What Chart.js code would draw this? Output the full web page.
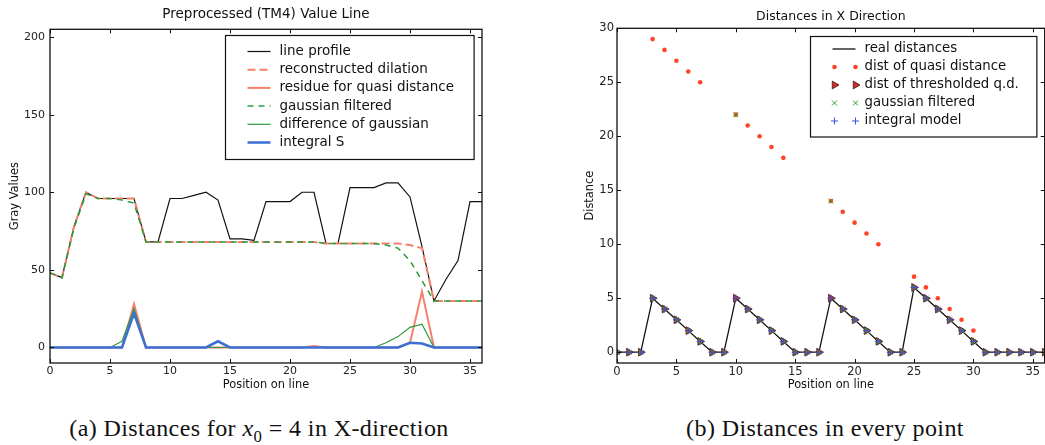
<!DOCTYPE html>
<html>
<head>
<meta charset="utf-8">
<script src="https://cdn.jsdelivr.net/npm/chart.js@4.4.1/dist/chart.umd.min.js"></script>
<style>
  html, body { margin: 0; padding: 0; background: #fff; width: 1045px; height: 445px; overflow: hidden; }
  .wrap { position: absolute; top: 0; height: 400px; }
  #wrapA { left: 0; width: 484px; }
  #wrapB { left: 560px; width: 490px; }
  .caption {
    position: absolute; top: 415px; transform: translateX(-50%);
    font-family: "Liberation Serif", "DejaVu Serif", serif; font-size: 24px; letter-spacing: 0.4px;
    color: #111; white-space: nowrap;
  }
  .caption sub { font-size: 0.7em; }
</style>
</head>
<body>
<div class="wrap" id="wrapA"><canvas id="chartA"></canvas></div>
<div class="wrap" id="wrapB"><canvas id="chartB"></canvas></div>
<div class="caption" style="left:259px">(a) Distances for <i>x</i><sub>0</sub> = 4 in X-direction</div>
<div class="caption" style="left:825px">(b) Distances in every point</div>

<script>
// === DATOS ===
const positions = [0,1,2,3,4,5,6,7,8,9,10,11,12,13,14,15,16,17,18,19,20,21,22,23,24,25,26,27,28,29,30,31,32,33,34,35,36];
const positionTicks = [0, 5, 10, 15, 20, 25, 30, 35];
const grayTicks = [0, 50, 100, 150, 200];
const distanceTicks = [0, 5, 10, 15, 20, 25, 30];

// (a) value line
const lineProfile      = [48,45,78,100,96,96,96,96,68,68,96,96,98,100,95,70,70,69,94,94,94,100,100,67,67,103,103,103,106,106,97,65,30,44,56,94,94];
const reconDilation    = [48,45,78,100,96,96,96,96,68,68,68,68,68,68,68,68,68,68,68,68,68,68,68,67,67,67,67,67,67,67,66,64,30,30,30,30,30];
const residueQuasi     = [0,0,0,0,0,0,0,28,0,0,0,0,0,0,0,0,0,0,0,0,0,0,1,0,0,0,0,0,0,0,3,36,0,0,0,0,0];
const gaussianFiltered = [48,45,77,99,96,96,95,93,68,68,68,68,68,68,68,68,68,68,68,68,68,68,68,67,67,67,67,67,66,64,56,43,30,30,30,30,30];
const diffOfGaussian   = [0,0,0,0,0,0,4,25,0,0,0,0,0,0,0,0,0,0,0,0,0,0,0,0,0,0,0,0,3,7,13,15,0,0,0,0,0];
const integralS        = [0,0,0,0,0,0,0,22,0,0,0,0,0,0,4,0,0,0,0,0,0,0,0,0,0,0,0,0,0,0,3,2.5,0,0,0,0,0];

// (b) distances
const realDistances    = [0,0,0,5,4,3,2,1,0,0,5,4,3,2,1,0,0,0,5,4,3,2,1,0,0,6,5,4,3,2,1,0,0,0,0,0,0];
const quasiDistance    = [0,0,0,29,28,27,26,25,0,0,22,21,20,19,18,0,0,0,14,13,12,11,10,0,0,7,6,5,4,3,2,0,0,0,0,0,0];
const thresholdedQD    = [0,0,0,5,4,3,2,1,0,0,5,4,3,2,1,0,0,0,5,4,3,2,1,0,0,6,5,4,3,2,1,0,0,0,0,0,0];
const gaussianDist     = [0,0,0,5,4,3,2,1,0,0,22,4,3,2,1,0,0,0,14,4,3,2,1,0,0,6,5,4,3,2,1,0,0,0,0,0,0];
const integralModel    = [0,0,0,5,4,3,2,1,0,0,5,4,3,2,1,0,0,0,5,4,3,2,1,0,0,6,5,4,3,2,1,0,0,0,0,0,0];

const FONT = '"DejaVu Sans", sans-serif';
const pts = (arr) => positions.map((x, i) => ({ x, y: arr[i] }));

// === MARCO Y TICKS HACIA DENTRO (estilo matplotlib) ===
const framePlugin = {
  id: 'frame',
  afterDatasetsDraw(chart) {
    const { ctx, chartArea: a, scales: { x, y } } = chart;
    ctx.save();
    ctx.strokeStyle = '#111';
    ctx.lineWidth = 1;
    ctx.beginPath();
    x.ticks.forEach((t) => {
      const px = Math.round(x.getPixelForValue(t.value)) + 0.5;
      ctx.moveTo(px, a.bottom); ctx.lineTo(px, a.bottom - 4);
      ctx.moveTo(px, a.top); ctx.lineTo(px, a.top + 4);
    });
    y.ticks.forEach((t) => {
      const py = Math.round(y.getPixelForValue(t.value)) + 0.5;
      ctx.moveTo(a.left, py); ctx.lineTo(a.left + 4, py);
      ctx.moveTo(a.right, py); ctx.lineTo(a.right - 4, py);
    });
    ctx.stroke();
    ctx.lineWidth = 1.3;
    ctx.strokeRect(a.left, a.top, a.width, a.height);
    ctx.restore();
  }
};

// === LEYENDA CON CAJA DENTRO DEL GRÁFICO ===
const boxLegendPlugin = {
  id: 'boxLegend',
  afterDraw(chart, args, opts) {
    const { ctx, chartArea } = chart;
    const sets = chart.data.datasets;
    ctx.save();
    ctx.font = `${opts.fontSize}px ${FONT}`;
    const textW = Math.max(...sets.map((d) => ctx.measureText(d.label).width));
    const w = 54 + textW + opts.padRight;
    const h = opts.rowStart + (sets.length - 1) * opts.rowGap + opts.padBottom;
    const x0 = Math.round(chartArea.right - opts.marginRight - w) + 0.5;
    const y0 = Math.round(chartArea.top + opts.marginTop) + 0.5;
    ctx.fillStyle = '#fff';
    ctx.fillRect(x0, y0, w, h);
    ctx.strokeStyle = '#111';
    ctx.lineWidth = 1.2;
    ctx.strokeRect(x0, y0, w, h);

    sets.forEach((d, i) => {
      const y = y0 + opts.rowStart + i * opts.rowGap;
      if (d.showLine !== false) {
        ctx.beginPath();
        ctx.setLineDash(d.borderDash || []);
        ctx.strokeStyle = d.borderColor;
        ctx.lineWidth = d.borderWidth;
        ctx.moveTo(x0 + 22, y);
        ctx.lineTo(x0 + 45, y);
        ctx.stroke();
        ctx.setLineDash([]);
      } else {
        [24, 45].forEach((dx) => {
          ctx.fillStyle = d.pointBackgroundColor;
          ctx.strokeStyle = d.pointBorderColor;
          ctx.lineWidth = d.pointBorderWidth;
          Chart.helpers.drawPoint(ctx, {
            pointStyle: d.pointStyle,
            rotation: d.pointRotation || 0,
            radius: d.pointRadius,
            borderWidth: d.pointBorderWidth
          }, x0 + dx, y);
        });
      }
      ctx.fillStyle = '#111';
      ctx.textBaseline = 'middle';
      ctx.textAlign = 'left';
      ctx.fillText(d.label, x0 + 54, y);
    });
    ctx.restore();
  }
};

// === ESCALAS ===
function xScale(tickSize) {
  return {
    type: 'linear', min: 0, max: 36,
    afterBuildTicks: (s) => { s.ticks = positionTicks.map((v) => ({ value: v })); },
    afterFit: (s) => { s.height = 37; },
    grid: { display: false, drawTicks: false },
    border: { display: false },
    ticks: { padding: 2, color: '#222', maxRotation: 0, font: { family: FONT, size: tickSize } },
    title: { display: true, text: 'Position on line', color: '#111', font: { family: FONT, size: 11.4 }, padding: { top: 0, bottom: 8 } }
  };
}

function yScale(min, max, tickValues, width, tickSize, tickPad, label, titlePad) {
  return {
    type: 'linear', min, max,
    afterBuildTicks: (s) => { s.ticks = tickValues.map((v) => ({ value: v })); },
    afterFit: (s) => { s.width = width; },
    grid: { display: false, drawTicks: false },
    border: { display: false },
    ticks: { padding: tickPad, color: '#222', font: { family: FONT, size: tickSize } },
    title: { display: true, text: label, color: '#111', font: { family: FONT, size: 11.4 }, padding: { top: titlePad, bottom: 0 } }
  };
}

const lineSet = (label, arr, color, width, dash, order) => ({
  label, data: pts(arr), borderColor: color, borderWidth: width, borderDash: dash,
  pointRadius: 0, tension: 0, fill: false, order
});

const markerSet = (label, arr, style, radius, bg, border, bw, rot, order) => ({
  label, data: pts(arr), showLine: false,
  pointStyle: style, pointRadius: radius, pointRotation: rot,
  pointBackgroundColor: bg, pointBorderColor: border, pointBorderWidth: bw, order
});

// === (a) PREPROCESSED VALUE LINE ===
new Chart(document.getElementById('chartA'), {
  type: 'line',
  data: {
    datasets: [
      lineSet('line profile', lineProfile, '#111', 1.2, [], 6),
      lineSet('reconstructed dilation', reconDilation, '#f7806c', 2, [8, 4], 5),
      lineSet('residue for quasi distance', residueQuasi, '#f7806c', 2, [], 4),
      lineSet('gaussian filtered', gaussianFiltered, '#2b9a3c', 1.5, [6, 5], 3),
      lineSet('difference of gaussian', diffOfGaussian, '#2b9a3c', 1.2, [], 2),
      lineSet('integral S', integralS, '#3a6fd6', 2.5, [], 1)
    ]
  },
  options: {
    responsive: true, maintainAspectRatio: false, animation: false,
    layout: { padding: { left: 0, right: 2, top: 0, bottom: 0 } },
    scales: {
      x: xScale(11),
      y: yScale(-10, 205, grayTicks, 50, 11, 5, 'Gray Values', 8)
    },
    plugins: {
      legend: { display: false },
      tooltip: { enabled: false },
      title: {
        display: true, fullSize: false, text: 'Preprocessed (TM4) Value Line', color: '#111',
        font: { family: FONT, size: 13.5, weight: 'normal' }, padding: { top: 6.2, bottom: 6.9 }
      },
      boxLegend: { fontSize: 13.5, rowStart: 16, rowGap: 18.2, padBottom: 17, padRight: 20, marginRight: 8, marginTop: 6 }
    }
  },
  plugins: [framePlugin, boxLegendPlugin]
});

// === (b) DISTANCES IN X DIRECTION ===
new Chart(document.getElementById('chartB'), {
  type: 'line',
  data: {
    datasets: [
      lineSet('real distances', realDistances, '#111', 1.3, [], 5),
      markerSet('dist of quasi distance', quasiDistance, 'circle', 2.3, '#ff4326', '#ff4326', 0, 0, 4),
      markerSet('dist of thresholded q.d.', thresholdedQD, 'triangle', 4.5, '#cf2f2a', '#4a1414', 0.8, 90, 3),
      markerSet('gaussian filtered', gaussianDist, 'crossRot', 3.5, '#2ca02c', '#2ca02c', 1, 0, 2),
      markerSet('integral model', integralModel, 'cross', 3.5, '#3355dd', '#3355dd', 1, 0, 1)
    ]
  },
  options: {
    responsive: true, maintainAspectRatio: false, animation: false,
    layout: { padding: { left: 0, right: 2, top: 0, bottom: 0 } },
    scales: {
      x: xScale(11.5),
      y: yScale(-1, 30, distanceTicks, 57, 11.5, 3, 'Distance', 23)
    },
    plugins: {
      legend: { display: false },
      tooltip: { enabled: false },
      title: {
        display: true, fullSize: false, text: 'Distances in X Direction', color: '#111',
        font: { family: FONT, size: 12.5, weight: 'normal' }, padding: { top: 9.2, bottom: 4.1 }
      },
      boxLegend: { fontSize: 13.3, rowStart: 12.5, rowGap: 18, padBottom: 16, padRight: 18, marginRight: 8, marginTop: 7.7 }
    }
  },
  plugins: [framePlugin, boxLegendPlugin]
});
</script>
</body>
</html>
